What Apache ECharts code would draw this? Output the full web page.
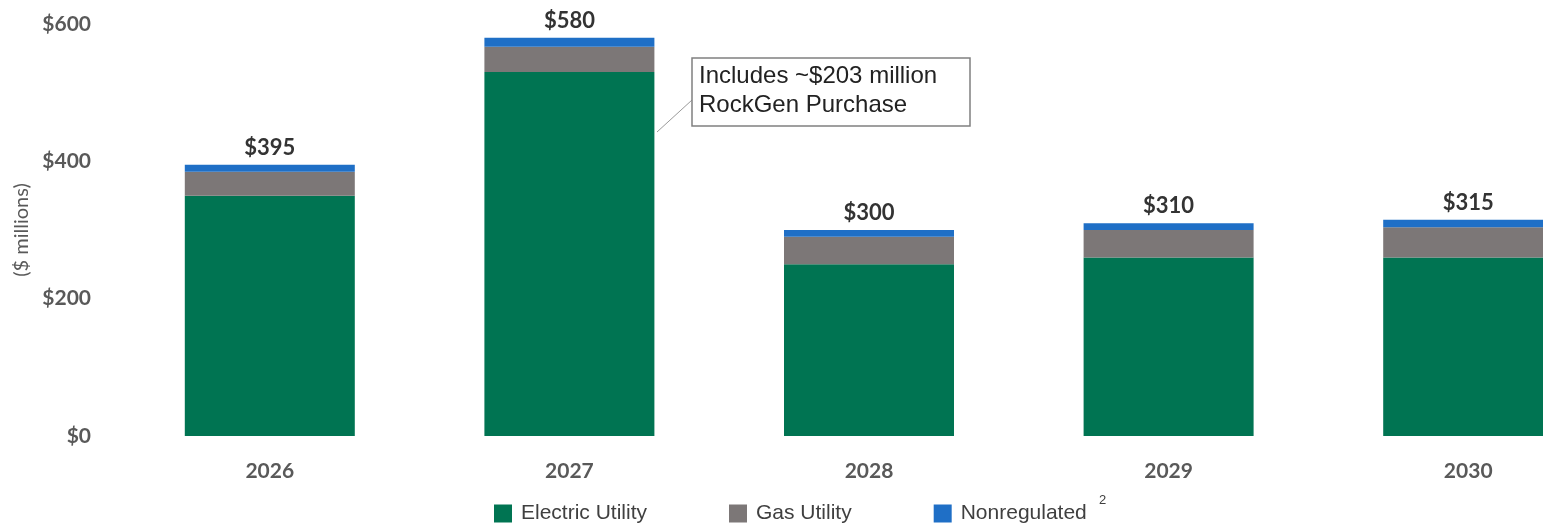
<!DOCTYPE html>
<html>
<head>
<meta charset="utf-8">
<script src="https://cdn.jsdelivr.net/npm/echarts@6/dist/echarts.min.js"></script>
<style>
  html, body { margin: 0; padding: 0; background: #ffffff; overflow: hidden; }
  /* the plot runs past the right edge of the page, so the last bar is cut off */
  #chart { width: 1640px; height: 527px; }
</style>
</head>
<body>
<div id="chart"></div>
<script>
// Capital expenditure plan by segment ($ millions)
const years = ['2026', '2027', '2028', '2029', '2030'];
const electricUtility = [350, 530, 250, 260, 260];
const gasUtility = [35, 37, 40, 40, 44];
const nonregulated = [10, 13, 10, 10, 11];
const totals = [395, 580, 300, 310, 315];
const yTicks = { min: 0, max: 600, interval: 200 };

const GREEN = '#007452';
const GRAY = '#7c7777';
const BLUE = '#1f6fc6';
const AXIS_TEXT = '#595959';

const chart = echarts.init(document.getElementById('chart'));

const option = {
  backgroundColor: '#ffffff',
  animation: false,
  grid: { left: 120, top: 24, width: 1498, height: 412 },
  xAxis: {
    type: 'category',
    data: years,
    axisLine: { show: false },
    axisTick: { show: false },
    axisLabel: {
      margin: 25,
      fontFamily: 'Lato',
      fontWeight: 'bold',
      fontSize: 21,
      color: AXIS_TEXT
    }
  },
  yAxis: {
    type: 'value',
    min: yTicks.min,
    max: yTicks.max,
    interval: yTicks.interval,
    name: '($ millions)',
    nameLocation: 'middle',
    nameGap: 81,
    nameTextStyle: { fontFamily: 'Lato', fontSize: 20, color: AXIS_TEXT },
    axisLine: { show: false },
    axisTick: { show: false },
    splitLine: { show: false },
    axisLabel: {
      margin: 29,
      fontFamily: 'Lato',
      fontWeight: 'bold',
      fontSize: 21,
      color: AXIS_TEXT,
      formatter: v => '$' + v
    }
  },
  legend: {
    left: 494,
    top: 503,
    padding: 0,
    itemWidth: 18,
    itemHeight: 18,
    itemGap: 82,
    icon: 'rect',
    textStyle: {
      fontFamily: 'Liberation Sans',
      fontSize: 21,
      color: '#404040',
      padding: [0, 0, 0, 4]
    },
    data: ['Electric Utility', 'Gas Utility', 'Nonregulated']
  },
  series: [
    {
      name: 'Electric Utility',
      type: 'bar',
      stack: 'capex',
      barWidth: 170,
      itemStyle: { color: GREEN },
      data: electricUtility
    },
    {
      name: 'Gas Utility',
      type: 'bar',
      stack: 'capex',
      itemStyle: { color: GRAY },
      data: gasUtility
    },
    {
      name: 'Nonregulated',
      type: 'bar',
      stack: 'capex',
      itemStyle: { color: BLUE },
      data: nonregulated,
      label: {
        show: true,
        position: 'top',
        distance: 6,
        fontFamily: 'Lato',
        fontWeight: 'bold',
        fontSize: 22,
        color: '#333333',
        formatter: p => '$' + totals[p.dataIndex]
      }
    }
  ],
  graphic: [
    // footnote marker after the "Nonregulated" legend entry
    {
      type: 'text',
      left: 1099,
      top: 494,
      style: { text: '2', fontFamily: 'Liberation Sans', fontSize: 13, fill: '#404040' }
    },
    // callout for the 2027 bar
    {
      type: 'line',
      shape: { x1: 657, y1: 132, x2: 692, y2: 100 },
      style: { stroke: '#9a9a9a', lineWidth: 1 }
    },
    {
      type: 'rect',
      shape: { x: 692, y: 58, width: 278, height: 68 },
      style: { fill: '#ffffff', stroke: '#808080', lineWidth: 1.5 }
    },
    {
      type: 'text',
      left: 699,
      top: 62,
      style: {
        text: 'Includes ~$203 million\nRockGen Purchase',
        fontFamily: 'Liberation Sans',
        fontSize: 24,
        lineHeight: 29,
        fill: '#222222'
      }
    }
  ]
};

chart.setOption(option);
</script>
</body>
</html>
